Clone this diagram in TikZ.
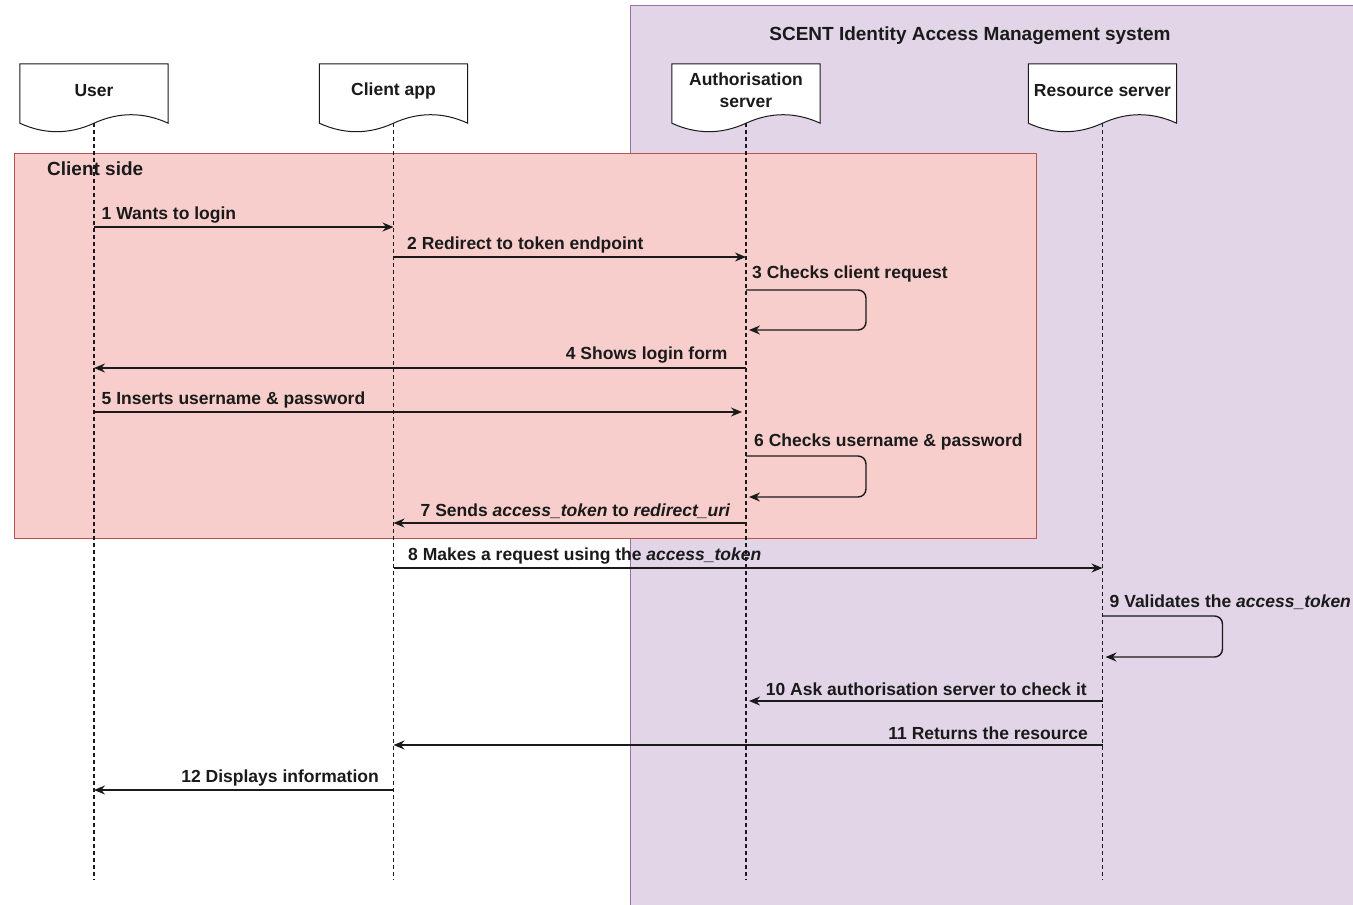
\documentclass[tikz,border=0pt]{standalone}
\usepackage{fontspec}
\setmainfont{Liberation Sans}
\usetikzlibrary{arrows.meta,calc}
\definecolor{redfill}{HTML}{F8CECC}
\definecolor{redline}{HTML}{B85450}
\definecolor{purfill}{HTML}{E1D5E7}
\definecolor{purline}{HTML}{9673A6}
\definecolor{ink}{HTML}{1A1A1A}
\begin{document}
\begin{tikzpicture}[x=1pt,y=-1pt,
  actor/.style={minimum width=148, minimum height=59, inner sep=0},
  actorlbl/.style={align=center, inner sep=0,
    font=\bfseries\fontsize{17.5}{22}\selectfont, text=ink},
  docline/.style={draw=ink, line width=1pt, fill=white},
  life/.style={draw=ink, line width=1.2pt, dash pattern=on 4pt off 3pt},
  msg/.style={draw=ink, line width=1.4pt, -{Stealth[length=11pt,width=9pt]}},
  lbl/.style={font=\bfseries\fontsize{17.5}{20}\selectfont, text=ink, inner sep=0},
  ttl/.style={font=\bfseries\fontsize{19}{22}\selectfont, text=ink, inner sep=0}
]
\clip (0,0) rectangle (1353,905);
\useasboundingbox (0,0) rectangle (1353,905);
\fill[white] (0,0) rectangle (1353,905);
% groups
\fill[purfill] (630,5) rectangle (1370,920);
\draw[purline, line width=1pt] (630,920) -- (630,5) -- (1370,5);
\node[ttl] (iam) at (970,36) {SCENT Identity Access Management system};
\draw[fill=redfill, draw=redline, line width=1pt] (14,153) rectangle (1036,538);
\node[ttl, anchor=west] (cside) at (47,169) {Client side};
% actors
\node[actor] (user) at (94,93.5) {};
\node[actor] (client) at (393.5,93.5) {};
\node[actor] (auth) at (746,93.5) {};
\node[actor] (res) at (1102.5,93.5) {};
\foreach \n in {user,client,auth,res}{
  \draw[docline] (\n.north west) -- (\n.north east) -- (\n.south east)
    .. controls +(-24.67,-11.33) and +(24.67,-11.33) .. (\n.south)
    .. controls +(-24.67,11.33) and +(24.67,11.33) .. (\n.south west) -- cycle;
}
\node[actorlbl] (userlbl) at ($(user)+(0,-3)$) {User};
\node[actorlbl] (clientlbl) at ($(client)+(0,-3)$) {Client app};
\node[actorlbl] (authlbl) at ($(auth)+(0,-3)$) {Authorisation\\server};
\node[actorlbl] (reslbl) at ($(res)+(0,-3)$) {Resource server};
% lifelines
\coordinate (bot) at (0,880);
\foreach \n in {user,client,auth,res}{
  \draw[life] (\n.south) -- (\n.south |- bot);
}
% message rows
\coordinate (m1) at (0,227);
\coordinate (m2) at (0,257);
\coordinate (m3) at (0,290);
\coordinate (m4) at (0,368);
\coordinate (m5) at (0,412);
\coordinate (m6) at (0,456);
\coordinate (m7) at (0,523);
\coordinate (m8) at (0,568);
\coordinate (m9) at (0,616);
\coordinate (m10) at (0,701);
\coordinate (m11) at (0,745);
\coordinate (m12) at (0,790);
% messages
\draw[msg] (user.south |- m1) -- node[at start, lbl, anchor=west, xshift=7pt, yshift=12pt] {1 Wants to login} (client.south |- m1);
\draw[msg] (client.south |- m2) -- node[at start, lbl, anchor=west, xshift=13pt, yshift=12pt] {2 Redirect to token endpoint} (auth.south |- m2);
\draw[msg, rounded corners=8pt] (auth.south |- m3) -- ++(120,0) -- ++(0,40) -- ($(auth.south |- m3)+(3,40)$);
\node[lbl, anchor=west] (l3) at ($(auth.south |- m3)+(6,-16)$) {3 Checks client request};
\draw[msg] (auth.south |- m4) -- node[at start, lbl, anchor=east, xshift=-18pt, yshift=13pt] {4 Shows login form} (user.south |- m4);
\draw[msg] (user.south |- m5) -- node[at start, lbl, anchor=west, xshift=7pt, yshift=12pt] {5 Inserts username \& password} ($(auth.south |- m5)+(-4,0)$);
\draw[msg, rounded corners=8pt] (auth.south |- m6) -- ++(120,0) -- ++(0,41) -- ($(auth.south |- m6)+(3,41)$);
\node[lbl, anchor=west] (l6) at ($(auth.south |- m6)+(8,-14)$) {6 Checks username \& password};
\draw[msg] (auth.south |- m7) -- node[at start, lbl, anchor=east, xshift=-15pt, yshift=12pt] {7 Sends \textit{access\_token} to \textit{redirect\_uri}} (client.south |- m7);
\draw[msg] (client.south |- m8) -- node[at start, lbl, anchor=west, xshift=14pt, yshift=12pt] {8 Makes a request using the \textit{access\_token}} (res.south |- m8);
\draw[msg, rounded corners=8pt] (res.south |- m9) -- ++(120,0) -- ++(0,41) -- ($(res.south |- m9)+(3,41)$);
\node[lbl, anchor=west] (l9) at ($(res.south |- m9)+(7,-14)$) {9 Validates the \textit{access\_token}};
\draw[msg] (res.south |- m10) -- node[at start, lbl, anchor=east, xshift=-15pt, yshift=12pt] {10 Ask authorisation server to check it} ($(auth.south |- m10)+(3,0)$);
\draw[msg] (res.south |- m11) -- node[at start, lbl, anchor=east, xshift=-14pt, yshift=12pt] {11 Returns the resource} (client.south |- m11);
\draw[msg] (client.south |- m12) -- node[at start, lbl, anchor=east, xshift=-14pt, yshift=12pt] {12 Displays information} (user.south |- m12);
\end{tikzpicture}
\end{document}
